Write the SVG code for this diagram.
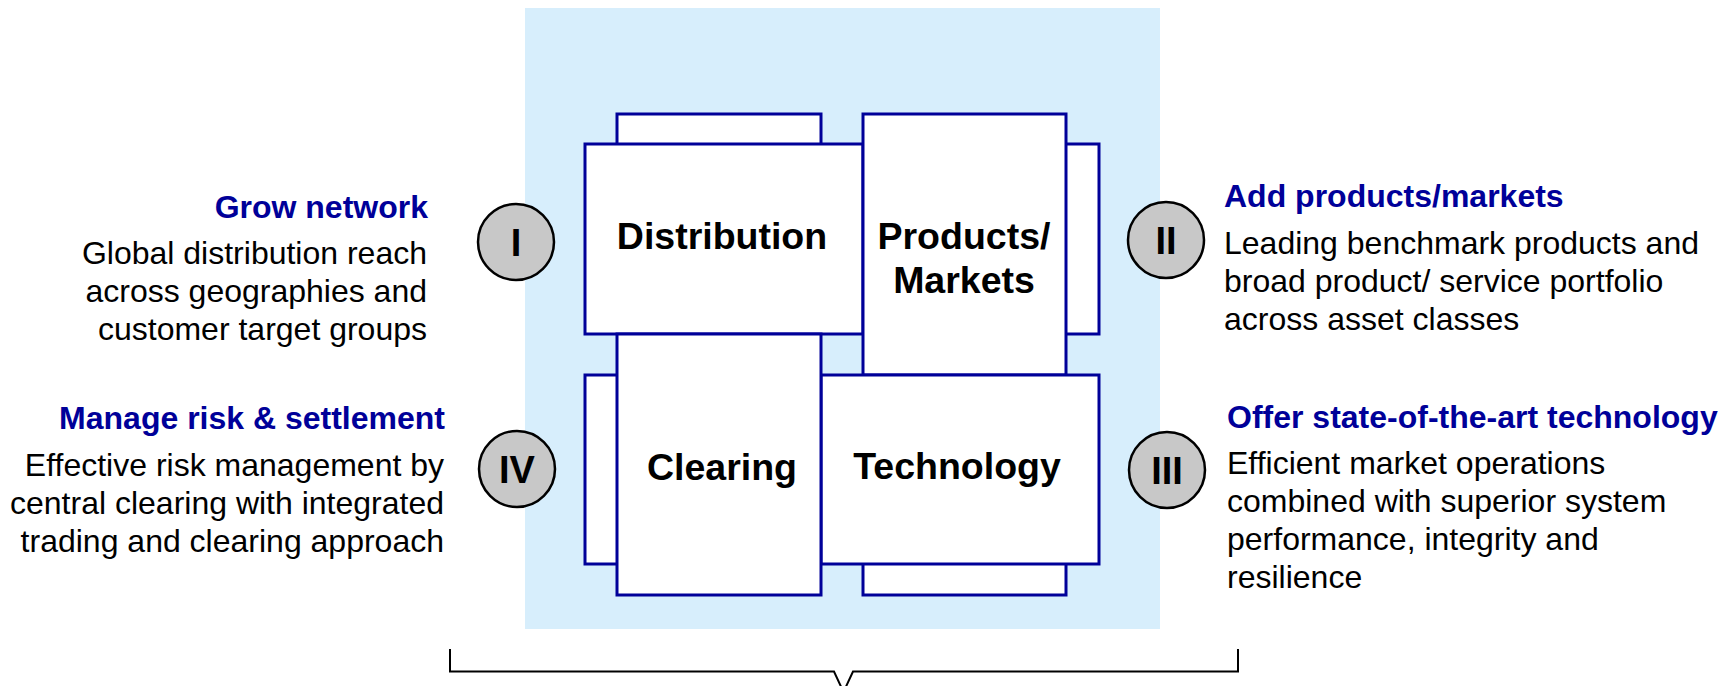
<svg xmlns="http://www.w3.org/2000/svg" width="1732" height="686" viewBox="0 0 1732 686">
<style>
.bx{fill:#ffffff;stroke:#000099;stroke-width:3}
.lbl{font-family:"Liberation Sans",Arial,sans-serif;font-weight:bold;font-size:37.5px;fill:#000000;text-anchor:middle}
.cir{fill:#c8c8c8;stroke:#000000;stroke-width:2.5}
.num{font-family:"Liberation Sans",Arial,sans-serif;font-weight:bold;font-size:38px;fill:#000000;text-anchor:middle}
.ttl{font-family:"Liberation Sans",Arial,sans-serif;font-weight:bold;font-size:32px;fill:#000099}
.body{font-family:"Liberation Sans",Arial,sans-serif;font-size:32px;fill:#000000}
.r{text-anchor:end}
.l{text-anchor:start}
.br{fill:none;stroke:#000000;stroke-width:2}
</style>
<rect id="background" x="525" y="8" width="635" height="621" fill="#d7eefc"/>
<g id="distribution">
<rect class="bx" x="617" y="114" width="204" height="100"/>
<rect class="bx" x="585" y="144" width="278" height="190"/>
<text class="lbl" x="722" y="249">Distribution</text>
</g>
<g id="products-markets">
<rect class="bx" x="1000" y="144" width="99" height="190"/>
<rect class="bx" x="863" y="114" width="203" height="261"/>
<text class="lbl" x="964" y="249">Products/</text>
<text class="lbl" x="964" y="293">Markets</text>
</g>
<g id="technology">
<rect class="bx" x="863" y="495" width="203" height="100"/>
<rect class="bx" x="821" y="375" width="278" height="189"/>
<text class="lbl" x="957" y="479">Technology</text>
</g>
<g id="clearing">
<rect class="bx" x="585" y="375" width="120" height="189"/>
<rect class="bx" x="617" y="334" width="204" height="261"/>
<text class="lbl" x="722" y="480">Clearing</text>
</g>
<g id="circle-I">
<circle class="cir" cx="516" cy="242" r="38"/>
<text class="num" x="516" y="256">I</text>
</g>
<g id="circle-II">
<circle class="cir" cx="1166" cy="240" r="38"/>
<text class="num" x="1166" y="254">II</text>
</g>
<g id="circle-III">
<circle class="cir" cx="1167" cy="470" r="38"/>
<text class="num" x="1167" y="484">III</text>
</g>
<g id="circle-IV">
<circle class="cir" cx="517" cy="469" r="38"/>
<text class="num" x="517" y="483">IV</text>
</g>
<g id="text-grow-network">
<text class="ttl r" x="428" y="218">Grow network</text>
<text class="body r" x="427" y="264">Global distribution reach</text>
<text class="body r" x="427" y="302">across geographies and</text>
<text class="body r" x="427" y="340">customer target groups</text>
</g>
<g id="text-manage-risk">
<text class="ttl r" x="445" y="429">Manage risk &amp; settlement</text>
<text class="body r" x="444" y="476">Effective risk management by</text>
<text class="body r" x="444" y="514">central clearing with integrated</text>
<text class="body r" x="444" y="552">trading and clearing approach</text>
</g>
<g id="text-add-products">
<text class="ttl l" x="1224" y="207">Add products/markets</text>
<text class="body l" x="1224" y="254">Leading benchmark products and</text>
<text class="body l" x="1224" y="292">broad product/ service portfolio</text>
<text class="body l" x="1224" y="330">across asset classes</text>
</g>
<g id="text-offer-technology">
<text class="ttl l" x="1227" y="428">Offer state-of-the-art technology</text>
<text class="body l" x="1227" y="474">Efficient market operations</text>
<text class="body l" x="1227" y="512">combined with superior system</text>
<text class="body l" x="1227" y="550">performance, integrity and</text>
<text class="body l" x="1227" y="588">resilience</text>
</g>
<g id="connectors">
<path class="br" d="M450,649 V671.5 H834 L843.5,692 L853,671.5 H1238 V649"/>
</g>
</svg>
